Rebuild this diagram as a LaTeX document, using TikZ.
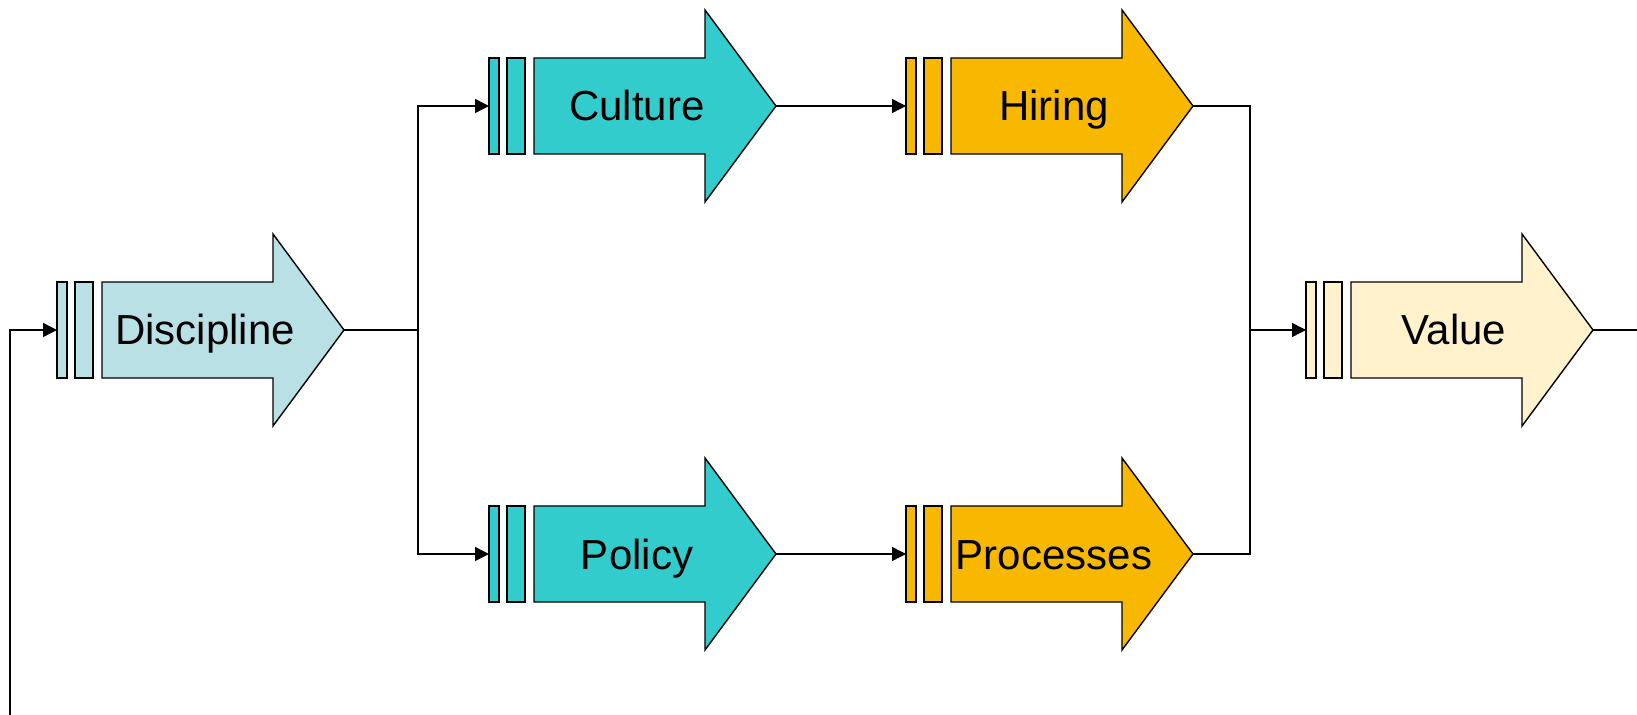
\documentclass[tikz,border=0pt]{standalone}
\usepackage{fontspec}
\setmainfont{Liberation Sans}
\usetikzlibrary{arrows.meta}

\definecolor{paleteal}{RGB}{185,224,228}
\definecolor{teal}{RGB}{51,204,204}
\definecolor{amber}{RGB}{248,184,0}
\definecolor{cream}{RGB}{255,242,204}

\tikzset{
  flow/.style={-{Triangle[length=7pt,width=7pt]}},
  stagetext/.style={font=\fontsize{21}{25}\selectfont, inner sep=0pt, anchor=base},
}

% #1 name, #2 x, #3 y, #4 fill, #5 text
\newcommand{\stage}[5]{%
  \begin{scope}[shift={(#2,#3)}]
    \draw [fill=#4] (0, -48) rectangle (10, 48);
    \draw [fill=#4] (18, -48) rectangle (36, 48);
    \draw [fill=#4] (45, -48) -- (216, -48) -- (216, -96) -- (287, 0)
      -- (216, 96) -- (216, 48) -- (45, 48) -- cycle;
    \node [stagetext] (#1) at (148, 15) {#5};
    \coordinate (#1-in) at (0, 0);
    \coordinate (#1-out) at (287, 0);
  \end{scope}}

\begin{document}
\begin{tikzpicture}[x=0.5pt, y=-0.5pt, line width=0.7pt, line join=miter]
    \useasboundingbox (0, 0) rectangle (1637, 715);

    \stage{disc}{57}{330}{paleteal}{Discipline}
    \stage{cult}{489}{106}{teal}{Culture}
    \stage{pol}{489}{554}{teal}{Policy}
    \stage{hire}{906}{106}{amber}{Hiring}
    \stage{proc}{906}{554}{amber}{Processes}
    \stage{val}{1306}{330}{cream}{Value}

    \coordinate (split) at (418, 330);
    \coordinate (merge) at (1250, 330);
    \coordinate (exit) at (1637, 330);
    \coordinate (loop) at (10, 715);

    \draw (disc-out) -- (split);
    \draw [flow] (split) |- (cult-in);
    \draw [flow] (split) |- (pol-in);
    \draw [flow] (cult-out) -- (hire-in);
    \draw [flow] (pol-out) -- (proc-in);
    \draw (hire-out) -| (merge);
    \draw (proc-out) -| (merge);
    \draw [flow] (merge) -- (val-in);
    \draw (val-out) -- (exit);
    \draw [flow] (loop) |- (disc-in);
\end{tikzpicture}
\end{document}
